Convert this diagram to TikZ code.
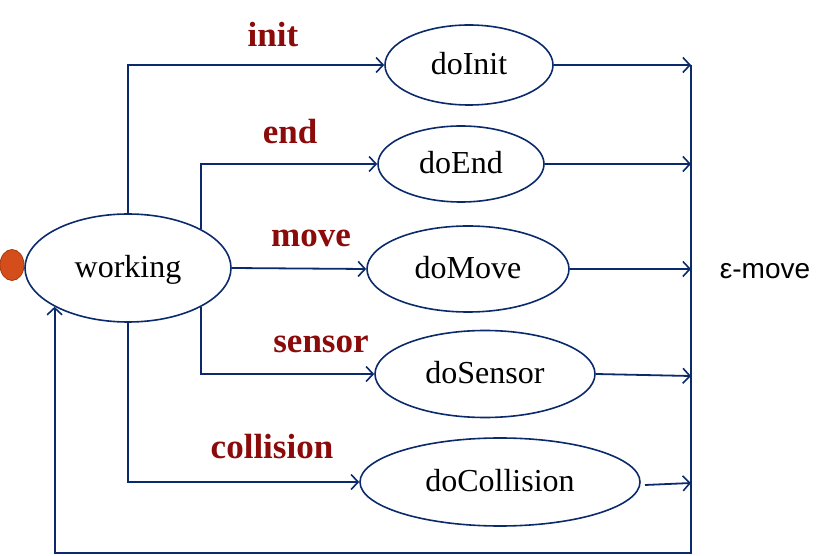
\documentclass[tikz,border=0pt]{standalone}
\usepackage{fontspec}
\setmainfont{Liberation Serif}
\setsansfont{Liberation Sans}
\usetikzlibrary{shapes.geometric,arrows.meta}
\definecolor{navy}{HTML}{0B2A6B}
\definecolor{lblred}{HTML}{8B0A0A}
\definecolor{dotfill}{HTML}{D44E1C}
\definecolor{dotline}{HTML}{A8380E}
\tikzset{
  state/.style={ellipse, draw=navy, line width=1.6pt, inner sep=0pt, text height=25pt, text depth=6pt, font=\fontsize{32}{32}\selectfont},
  conn/.style={draw=navy, line width=1.8pt},
  arr/.style={conn, -{Straight Barb[length=7pt,width=15pt,line width=1.6pt]}},
  lbl/.style={text=lblred, font=\fontsize{35}{35}\selectfont\bfseries, inner sep=0pt},
}
\begin{document}
\begin{tikzpicture}[x=1pt,y=-1pt]
\useasboundingbox (0,0) rectangle (831,556);
% initial dot
\node[ellipse, fill=dotfill, draw=dotline, line width=0.8pt, minimum width=24pt, minimum height=31pt, inner sep=0pt] (init) at (12,265) {};
% states
\node[state, minimum width=206pt, minimum height=108pt] (working) at (128,268) {working};
\node[state, minimum width=168pt, minimum height=80pt] (doInit) at (469,65) {doInit};
\node[state, minimum width=166pt, minimum height=76pt] (doEnd) at (461,164) {doEnd};
\node[state, minimum width=202pt, minimum height=86pt] (doMove) at (468,269) {doMove};
\node[state, minimum width=220pt, minimum height=87pt] (doSensor) at (485,374) {doSensor};
\node[state, minimum width=280pt, minimum height=88pt] (doCollision) at (500,482) {doCollision};
% epsilon collector
\coordinate (eTop) at (691,65);
\coordinate (eEnd) at (691,164);
\coordinate (eMove) at (691,269);
\coordinate (eSensor) at (691,376);
\coordinate (eColl) at (691,483);
\coordinate (eBot) at (691,553);
\coordinate (collStart) at (645,485);
% transitions out of working
\draw[arr] (working.north) |- (doInit.west);
\draw[arr] (working.north east) |- (doEnd.west);
\draw[arr] (working.east) -- (doMove.west);
\draw[arr] (working.south east) |- (doSensor.west);
\draw[arr] (working.south) |- (doCollision.west);
% into collector
\draw[arr] (doInit.east) -- (eTop);
\draw[arr] (doEnd.east) -- (eEnd);
\draw[arr] (doMove.east) -- (eMove);
\draw[arr] (doSensor.east) -- (eSensor);
\draw[arr] (collStart) -- (eColl);
\draw[arr] (eTop) -- (eBot) -| (working.south west);
% labels
\node[lbl] (linit) at (273,35) {init};
\node[lbl] (lend) at (290,132) {end};
\node[lbl] (lmove) at (311,238) {move};
\node[lbl] (lsensor) at (321,344) {sensor};
\node[lbl] (lcoll) at (272,447) {collision};
\node[font=\sffamily\fontsize{28}{28}\selectfont, inner sep=0pt] (eps) at (765,271) {ε-move};
\end{tikzpicture}
\end{document}
